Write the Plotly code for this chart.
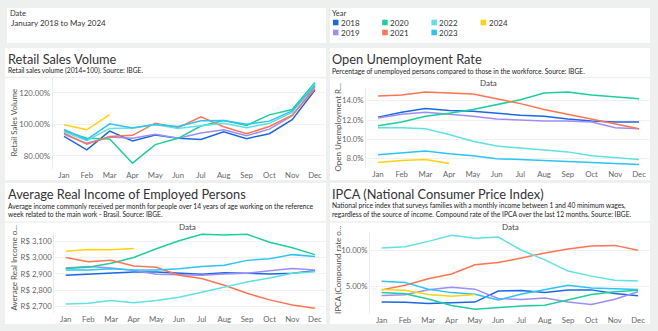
import plotly.graph_objects as go

W, H = 658, 331
FONT = "Lato"

months = ["Jan", "Feb", "Mar", "Apr", "May", "Jun", "Jul", "Aug", "Sep", "Oct", "Nov", "Dec"]
years = ["2018", "2019", "2020", "2021", "2022", "2023", "2024"]
colors = ["#1b68e3", "#9d8ef2", "#1ccf9c", "#ff7452", "#5ee2e2", "#2dc3f5", "#ffd20f"]

retail = {
    "2018": [92.4, 83.8, 95.8, 89.5, 93.3, 91.2, 90.5, 95.4, 91.0, 94.1, 103.0, 121.9],
    "2019": [93.7, 88.0, 92.0, 91.2, 93.7, 91.2, 94.5, 96.6, 92.8, 97.0, 105.5, 124.0],
    "2020": [95.8, 91.2, 90.7, 75.4, 87.2, 91.2, 99.0, 102.5, 99.4, 106.1, 109.5, 126.7],
    "2021": [94.5, 87.4, 92.4, 93.1, 100.8, 97.9, 104.8, 98.5, 94.1, 98.7, 105.9, 122.7],
    "2022": [95.4, 89.7, 97.5, 97.7, 100.0, 97.5, 99.2, 100.8, 97.9, 100.8, 107.6, 125.5],
    "2023": [96.8, 90.3, 100.4, 97.7, 100.0, 98.7, 102.3, 102.5, 100.2, 102.1, 108.6, 124.8],
    "2024": [99.8, 96.6, 106.3],
}
unemp = {
    "2018": [12.3, 12.8, 13.2, 13.0, 12.9, 12.7, 12.5, 12.4, 12.1, 11.9, 11.8, 11.8],
    "2019": [12.2, 12.6, 12.8, 12.6, 12.4, 12.1, 12.0, 11.9, 11.9, 11.8, 11.2, 11.1],
    "2020": [11.4, 11.8, 12.4, 12.7, 13.1, 13.6, 14.1, 14.8, 14.9, 14.6, 14.4, 14.2],
    "2021": [14.5, 14.6, 14.9, 14.8, 14.7, 14.2, 13.7, 13.1, 12.6, 12.1, 11.6, 11.1],
    "2022": [11.2, 11.2, 11.1, 10.5, 9.8, 9.3, 9.1, 8.9, 8.7, 8.3, 8.1, 7.9],
    "2023": [8.4, 8.6, 8.8, 8.5, 8.3, 8.0, 7.9, 7.8, 7.7, 7.6, 7.5, 7.4],
    "2024": [7.6, 7.8, 7.9, 7.5],
}
income = {
    "2018": [2891, 2899, 2907, 2911, 2911, 2903, 2897, 2907, 2901, 2899, 2903, 2919],
    "2019": [2936, 2944, 2936, 2921, 2897, 2895, 2891, 2899, 2903, 2919, 2933, 2923],
    "2020": [2933, 2940, 2964, 3000, 3053, 3102, 3141, 3137, 3141, 3092, 3059, 3017],
    "2021": [3000, 2974, 2982, 2948, 2940, 2891, 2871, 2830, 2781, 2741, 2710, 2690],
    "2022": [2716, 2720, 2737, 2724, 2737, 2757, 2787, 2818, 2850, 2875, 2903, 2913],
    "2023": [2923, 2923, 2931, 2923, 2923, 2931, 2944, 2952, 2982, 2992, 3017, 3005],
    "2024": [3037, 3049, 3047, 3055],
}
ipca = {
    "2018": [2.86, 2.84, 2.68, 2.76, 2.86, 4.39, 4.48, 4.19, 4.53, 4.56, 4.05, 3.75],
    "2019": [3.78, 3.89, 4.58, 4.94, 4.66, 3.37, 3.22, 3.43, 2.89, 2.54, 3.27, 4.31],
    "2020": [4.19, 4.01, 3.30, 2.40, 1.88, 2.13, 2.31, 2.44, 3.14, 3.92, 4.31, 4.52],
    "2021": [4.56, 5.20, 6.10, 6.76, 8.06, 8.35, 8.99, 9.68, 10.25, 10.67, 10.74, 10.06],
    "2022": [10.38, 10.54, 11.30, 12.13, 11.73, 11.89, 10.07, 8.73, 7.17, 6.47, 5.90, 5.79],
    "2023": [5.77, 5.60, 4.65, 4.18, 3.94, 3.16, 3.99, 4.61, 5.19, 4.82, 4.68, 4.62],
    "2024": [4.60, 4.50, 3.93, 3.69, 3.93],
}


def px(x):
    return x / W


def py(y):
    return 1 - y / H


fig = go.Figure()

panels = [
    (retail, "", (52.6, 326.4), (78, 169), (71.7, 129.5), ".2f", "", "%", 20),
    (unemp, "2", (366.1, 650.9), (88, 168), (7.03, 15.32), ".1f", "", "%", 2),
    (income, "3", (54.4, 326.3), (232, 313), (2661, 3155), ",", "R$ ", "", 100),
    (ipca, "4", (370.0, 649.7), (232, 314), (1.21, 12.6), ".2f", "", "%", 5),
]

TICKFONT = dict(family=FONT, size=7.8, color="#666666")
layout_axes = {}
for data, s, (x0, x1), (yt, yb), yr, fmt, pre, suf, dt in panels:
    for yr_name, col in zip(years, colors):
        vals = data[yr_name]
        fig.add_trace(go.Scatter(
            x=months[:len(vals)], y=vals, mode="lines",
            line=dict(color=col, width=1.5), name=yr_name,
            xaxis="x" + s, yaxis="y" + s, showlegend=False,
        ))
    layout_axes["xaxis" + s] = dict(
        domain=[px(x0), px(x1)], anchor="y" + s, type="category",
        categoryorder="array", categoryarray=months, range=[-0.5, 11.5],
        showgrid=False, zeroline=False, showline=False, ticks="",
        tickfont=TICKFONT,
    )
    layout_axes["yaxis" + s] = dict(
        domain=[py(yb), py(yt)], anchor="x" + s, range=list(yr),
        dtick=dt, tickformat=fmt, tickprefix=pre, ticksuffix=suf,
        showgrid=True, gridcolor="#f1f1f1", gridwidth=1, zeroline=False,
        showline=True, linecolor="#ececec", linewidth=1, ticks="",
        tickfont=TICKFONT,
    )

shapes = []
WHITE = "#ffffff"
boxes = [(7, 8, 326, 43), (330, 8, 650, 43),
         (5, 48, 326, 180), (330, 48, 650, 180),
         (5, 183, 326, 324), (330, 183, 650, 324)]
for x0, y0, x1, y1 in boxes:
    shapes.append(dict(type="rect", xref="paper", yref="paper", layer="below",
                       x0=px(x0), x1=px(x1), y0=py(y1), y1=py(y0),
                       fillcolor=WHITE, line=dict(width=0)))
for x0, x1, y in [(5, 326, 77.5), (330, 650, 77.5), (5, 326, 222), (330, 650, 222)]:
    shapes.append(dict(type="line", xref="paper", yref="paper", layer="below",
                       x0=px(x0), x1=px(x1), y0=py(y), y1=py(y),
                       line=dict(color="#eef0ef", width=1.5)))

for i, (yr_name, col) in enumerate(zip(years, colors)):
    cx = 333 + (i // 2) * 49.2
    cy = 22.5 + (i % 2) * 10
    shapes.append(dict(type="rect", xref="paper", yref="paper",
                       x0=px(cx), x1=px(cx + 5.5), y0=py(cy + 2.8), y1=py(cy - 2.8),
                       fillcolor=col, line=dict(width=0)))

ann = []


def text(x, y, t, size, color="#333333", xanchor="left", angle=0):
    ann.append(dict(x=px(x), y=py(y), xref="paper", yref="paper", text=t,
                    showarrow=False, xanchor=xanchor, yanchor="middle",
                    textangle=angle, borderpad=0,
                    font=dict(family=FONT, size=size, color=color)))


text(9, 13, "Date", 7.5)
text(10, 22.5, "January 2018 to May 2024", 8)
text(331, 13, "Year", 7.5)
for i, yr_name in enumerate(years):
    cx = 333 + (i // 2) * 49.2
    cy = 22.5 + (i % 2) * 10
    text(cx + 7, cy, yr_name, 8)

TS = 12.8
SS = 6.7
text(7, 59, "Retail Sales Volume", TS)
text(7, 70.5, "Retail sales volume (2014=100). Source: IBGE.", SS, "#222222")
text(331, 59, "Open Unemployment Rate", TS)
text(331, 70.5, "Percentage of unemployed persons compared to those in the workforce. Source: IBGE.", SS, "#222222")
text(7, 194, "Average Real Income of Employed Persons", TS)
text(7, 205.5, "Average income commonly received per month for people over 14 years of age working on the reference", SS, "#222222")
text(7, 214, "week related to the main work - Brasil. Source: IBGE.", SS, "#222222")
text(331, 194, "IPCA (National Consumer Price Index)", TS)
text(331, 205.5, "National price index that surveys families with a monthly income between 1 and 40 minimum wages,", SS, "#222222")
text(331, 214, "regardless of the source of income. Compound rate of the IPCA over the last 12 months. Source: IBGE.", SS, "#222222")

text(488, 82.5, "Data", 8, "#444444", "center")
text(187, 227, "Data", 8, "#444444", "center")
text(511, 227, "Data", 8, "#444444", "center")

YT = 8
text(13.5, 123, "Retail Sales Volume", YT, "#555555", "center", -90)
text(337.5, 128, "Open Unemployment R...", YT, "#555555", "center", -90)
text(13.5, 268, "Average Real Income o...", YT, "#555555", "center", -90)
text(338, 270, "IPCA (Compound rate o...", YT, "#555555", "center", -90)

fig.update_layout(
    width=W, height=H, margin=dict(l=0, r=0, t=0, b=0),
    paper_bgcolor="#eef0ef", plot_bgcolor="rgba(0,0,0,0)",
    showlegend=False, shapes=shapes, annotations=ann,
    **layout_axes,
)

fig.write_html("out.html", config={"displayModeBar": False})
